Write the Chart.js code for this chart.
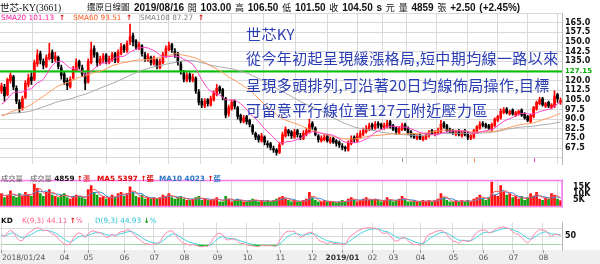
<!DOCTYPE html>
<html lang="zh-Hant">
<head>
<meta charset="UTF-8">
<title>世芯-KY(3661) 還原日線圖</title>
<script src="https://cdn.jsdelivr.net/npm/chart.js"></script>
<style>
  html, body { margin: 0; padding: 0; background: #fff; }
  #wrap { position: relative; width: 600px; height: 264px; overflow: hidden; background: #fff; }
  canvas { position: absolute; left: 0; }
  .t { position: absolute; white-space: nowrap; line-height: 1; }
  #dateRow { position: absolute; left: 0; top: 250px; width: 600px; height: 14px; background: #efefef; }
  #head { left: 134px; top: 1px; font: bold 10px "Liberation Sans", sans-serif; color: #111; word-spacing: 1px; }
  #head .c { font: 9px "Noto Sans CJK TC", sans-serif; }
  .sma { top: 13px; font: 7.3px "DejaVu Sans", sans-serif; }
  .up { color: #e00000; font-weight: bold; }
  .dn { color: #009900; font-weight: bold; }
  .leg { font: 7.3px "DejaVu Sans", "Noto Sans CJK TC", sans-serif; }
  .note { left: 246px; font: 15px "Noto Sans CJK TC", sans-serif; color: #2a3cb4; letter-spacing: 0.4px; }
</style>
</head>
<body>
<div id="wrap">
  <div id="dateRow"></div>
  <canvas id="priceChart" width="600" height="172" style="top:0"></canvas>
  <canvas id="volChart" width="600" height="43" style="top:172px"></canvas>
  <canvas id="kdChart" width="600" height="49" style="top:215px"></canvas>

  <div class="t" style="left:0;top:0;font:9.5px 'Liberation Serif','Noto Sans CJK TC',serif;color:#111">世芯-KY(3661)</div>
  <div class="t" style="left:87px;top:0;font:8.5px 'Noto Sans CJK TC',sans-serif;color:#111">還原日線圖</div>
  <div class="t" id="head">2019/08/16 <span class="c">開</span> 103.00 <span class="c">高</span> 106.50 <span class="c">低</span> 101.50 <span class="c">收</span> 104.50 s <span class="c">元</span> <span class="c">量</span> 4859 <span class="c">張</span> +2.50 (+2.45%)</div>

  <div class="t sma" style="left:1px;color:#ff1a9c">SMA20 101.13</div><div class="t sma up" style="left:59px">↑</div>
  <div class="t sma" style="left:73px;color:#ff5a1f">SMA60 93.51</div><div class="t sma up" style="left:126px">↑</div>
  <div class="t sma" style="left:140px;color:#808080">SMA108 87.27</div><div class="t sma up" style="left:198px">↑</div>

  <div class="t note" style="top:23px">世芯KY</div>
  <div class="t note" style="top:47px">從今年初起呈現緩漲格局,短中期均線一路以來</div>
  <div class="t note" style="top:74px">呈現多頭排列,可沿著20日均線佈局操作,目標</div>
  <div class="t note" style="top:99px">可留意平行線位置127元附近壓力區</div>

  <div class="t leg" style="left:1px;top:173px;color:#666">成交量</div>
  <div class="t leg" style="left:30px;top:173px;color:#666">成交量 <b style="color:#111">4859</b> <span class="up">↑</span><span style="color:#e00000">張</span></div>
  <div class="t leg" style="left:97px;top:173px;color:#e00000;font-weight:bold">MA5 5397 <span class="up">↑</span>張</div>
  <div class="t leg" style="left:159px;top:173px;color:#2a78c8;font-weight:bold">MA10 4023 <span class="up">↑</span>張</div>

  <div class="t leg" style="left:1px;top:216px;color:#111;font-weight:bold">KD</div>
  <div class="t leg" style="left:22px;top:216px;color:#ff5c8a">K(9,3) 44.11 <span class="up">↑</span>%</div>
  <div class="t leg" style="left:95px;top:216px;color:#2ec4cf">D(9,3) 44.93 <span class="dn">↓</span>%</div>
</div>

<script>
// 還原日線 (每根 = 約兩個交易日)
const opens = [112,115,109,120,123,114,103,99,107,117, 123,121,133,141,135,131,137,142,136,138,
  130,125,120,115,122,128,135,130,124,119, 134,145,141,133,136,140,134,136,141,135,
  141,147,143,150,155,151,145,147,140,136, 138,133,136,130,134,139,144,148,143,141,
  133,126,120,125,120,122,111,104,100,105, 101,105,109,115,113,106,94,98,104,99,
  93,88,92,89,85,79,77,73,76,71, 71,67,66,64,71,77,81,80,76,81,
  77,75,78,80,87,83,77,73,74,77, 72,75,73,72,69,68,66,71,76,73,
  76,78,80,82,86,83,87,86,83,84, 88,85,83,79,82,86,83,80,78,75,
  78,74,75,77,81,78,79,80,87,85, 82,81,78,81,77,81,79,75,76,80,
  83,87,86,85,82,85,89,91,95,98, 94,97,93,94,97,94,92,88,92,98,
  102,106,100,103,99,100,109,103];
const highs = [118,117,122,126,124,116,105,108,120,125, 126,136,144,143,137,140,149,144,142,139,
  132,127,122,123,131,137,136,132,126,137, 150,147,142,139,141,141,139,142,142,144,
  149,148,151,164,157,152,150,148,142,141, 139,139,137,137,142,147,150,149,145,142,
  135,128,126,126,125,123,113,106,106,106, 108,112,117,116,114,107,101,105,105,100,
  94,93,93,90,86,80,78,79,77,73, 72,69,67,72,80,84,82,81,82,82,
  79,81,83,90,88,84,78,77,78,78, 76,76,74,73,71,69,73,77,77,79,
  81,83,85,87,87,88,88,87,87,89, 89,86,84,84,87,87,84,81,79,78,
  79,77,79,81,82,81,83,89,88,86, 83,82,81,82,81,82,80,78,82,85,
  88,88,87,86,87,91,93,98,99,99, 97,98,96,97,98,95,93,94,100,104,
  107,107,103,104,102,112,110,106.5];
const lows = [110,104,108,118,113,102,95,97,106,115, 117,120,131,133,129,130,136,134,135,129,
  121,117,113,114,121,127,129,123,113,118, 133,138,131,132,134,133,133,135,134,134,
  140,142,142,148,147,144,144,139,135,135, 132,132,129,129,133,138,143,142,138,132,
  125,119,119,119,119,110,101,99,99,100, 100,104,108,110,105,91,92,97,98,90,
  87,87,86,84,78,74,72,72,70,68, 66,64,62,63,70,76,77,75,75,76,
  74,74,77,79,82,77,72,72,73,72, 71,71,69,68,66,65,65,70,72,72,
  75,77,79,81,82,82,83,82,82,83, 83,81,78,78,81,81,78,76,75,74,
  74,73,74,76,78,77,78,79,83,80, 79,78,77,77,76,77,74,74,75,79,
  82,84,83,82,81,84,88,90,94,94, 93,93,92,93,92,90,88,87,91,97,
  101,100,99,99,98,99,103,101.5];
const closes = [116,108,121,124,115,104,98,106,118,122, 120,134,140,136,132,138,141,137,139,131,
  124,119,116,121,129,134,131,125,118,135, 144,140,134,137,139,135,137,140,136,142,
  146,144,149,154,150,146,148,141,137,139, 134,137,131,135,140,145,147,144,140,134,
  127,121,124,121,123,112,103,101,104,102, 106,110,114,112,107,93,99,103,100,92,
  89,91,88,86,80,76,74,77,72,70, 68,66,64,70,78,82,79,77,80,78,
  76,79,81,86,84,78,74,75,76,73, 74,72,71,70,68,67,72,75,74,77,
  79,81,83,85,84,86,85,84,85,87, 84,82,80,83,85,82,79,77,76,77,
  75,76,78,80,79,80,81,86,84,81, 80,79,80,78,80,78,76,77,81,84,
  86,85,84,83,86,90,92,96,97,95, 96,94,95,96,93,91,89,93,99,103,
  105,101,102,100,101,108,106,104.5];
// 圖表起點之前的收盤 (供均線起算)
const priorCloses = [94,96,95,97,99,98,96,95,97,98,96,94,95,93,92,94,95,93,91,92,90,91,93,92,
  90,88,89,87,86,88,87,85,86,88,87,86,88,89,87,86,88,90,89,91,92,
  93,95,94,97,99,101,104,107,111];
// 成交量 (千張)
const volumes = [10,7,9,12,8,7,10,8,11,9, 8,17,14,10,8,11,13,9,8,7,
  9,10,7,6,8,9,8,7,6,13, 16,11,9,7,8,6,7,9,7,10,
  11,8,10,15,11,8,7,9,6,7, 6,7,6,7,9,8,10,7,6,7,
  8,6,5,5,6,7,8,5,6,5, 5,6,7,4,4,8,6,4,5,6,
  5,4,4,5,6,5,4,5,4,5, 4,5,6,7,8,6,5,4,5,4,
  4,5,6,11,7,5,4,4,5,4, 4,4,3,4,5,4,6,7,5,4,
  5,6,7,5,5,6,5,4,5,7, 5,4,5,6,8,5,4,4,5,4,
  4,5,4,5,4,5,6,10,7,5, 4,4,5,4,5,4,5,4,6,7,
  9,6,5,7,18.5,9,8,16,11,9, 10,7,8,6,8,5,7,10,8,11,
  6,5,7,6,10,9,6,4.859];

const tickIndex = [0, 21, 29, 41, 51, 61, 72, 82, 93, 104, 114, 124, 131, 140, 151, 161, 171, 181];
const tickLabels = ['2018/01/24','04','05','06','07','08','09','10','11','12','2019/01','02','03','04','05','06','07','08'];
const priceTicks = [60, 67.5, 75, 82.5, 90, 97.5, 105, 112.5, 120, 127.5, 135, 142.5, 150, 157.5, 165, 172.5];
const priceLabeled = [67.5, 75, 82.5, 90, 97.5, 105, 112.5, 120, 135, 142.5, 150, 157.5, 165];
const resistance = 127.15;
const volTicks = [5, 10, 15];
const kdTicks = [20, 50, 80];

const N = closes.length;
const xMin = -0.5, xMax = N - 0.5;
const gridColor = '#d9d9d9';
Chart.defaults.font.family = '"DejaVu Sans", sans-serif';

function sma(series, n, lead) {
  const all = lead.concat(series);
  const p = lead.length;
  return series.map((_, i) => {
    const j = i + p;
    const from = Math.max(0, j - n + 1);
    let s = 0;
    for (let k = from; k <= j; k++) s += all[k];
    return { x: i, y: s / (j - from + 1) };
  });
}

function xAxis() {
  return {
    type: 'linear', min: xMin, max: xMax, offset: false,
    afterBuildTicks: s => { s.ticks = tickIndex.map(v => ({ value: v })); },
    afterFit: s => { s.height = 0; },
    ticks: { display: false },
    grid: { color: gridColor, drawTicks: false },
    border: { display: false }
  };
}

function yAxis(min, max, ticks, label) {
  return {
    position: 'right', min: min, max: max,
    afterBuildTicks: s => { s.ticks = ticks.map(v => ({ value: v })); },
    afterFit: s => { s.width = 38; },
    ticks: { autoSkip: false, padding: 3, color: '#111', font: { size: 8, weight: 'bold' }, callback: label },
    grid: { color: gridColor, drawTicks: false },
    border: { color: '#b8b8b8' }
  };
}

const baseOpts = {
  responsive: false, devicePixelRatio: 1, animation: false,
  plugins: { legend: { display: false }, tooltip: { enabled: false } }
};

const candleColor = closes.map((c, i) => c >= opens[i] ? '#ff0000' : '#000000');

// 價格
new Chart(document.getElementById('priceChart'), {
  type: 'bar',
  data: {
    datasets: [
      { type: 'line', data: sma(closes, 10, priorCloses), borderColor: '#ff44c8', borderWidth: 1, pointRadius: 0, order: 0 },
      { type: 'line', data: sma(closes, 30, priorCloses), borderColor: '#ff9a5a', borderWidth: 1, pointRadius: 0, order: 0 },
      { type: 'line', data: sma(closes, 54, priorCloses), borderColor: '#a8a8a8', borderWidth: 1, pointRadius: 0, order: 0 },
      { type: 'line', data: [{ x: xMin, y: resistance }, { x: xMax, y: resistance }], borderColor: '#00c400', borderWidth: 2, pointRadius: 0, order: 0 },
      { data: closes.map((c, i) => ({ x: i, y: [lows[i], highs[i]] })), backgroundColor: candleColor, barThickness: 1, grouped: false, order: 2 },
      { data: closes.map((c, i) => ({ x: i, y: [opens[i], c] })), backgroundColor: candleColor, barThickness: 2, grouped: false, order: 1 }
    ]
  },
  options: Object.assign({}, baseOpts, {
    layout: { padding: { top: 13, left: 0, right: 0, bottom: 0 } },
    scales: {
      x: xAxis(),
      y: yAxis(54.9, 172.6, priceTicks, v => priceLabeled.includes(v) ? v.toFixed(1) : '')
    }
  }),
  plugins: [{
    id: 'priceExtras',
    afterDraw(chart) {
      const { ctx, chartArea, scales: { x, y } } = chart;
      ctx.save();
      ctx.fillStyle = '#00b000';
      ctx.font = 'bold 7px "DejaVu Sans"';
      ctx.textBaseline = 'middle';
      ctx.fillText(resistance.toFixed(2), chartArea.right + 3, y.getPixelForValue(resistance));
      [[54, '#999999'], [30, '#ff8a40'], [10, '#ff44c8']].forEach(([n, col]) => {
        const px = Math.round(x.getPixelForValue(N - n)) + 0.5;
        ctx.strokeStyle = col;
        ctx.beginPath(); ctx.moveTo(px, chartArea.bottom - 6); ctx.lineTo(px, chartArea.bottom - 2); ctx.stroke();
      });
      ctx.restore();
    }
  }]
});

// 成交量
const volColor = closes.map((c, i) => c >= opens[i] ? '#ff1010' : '#10a010');
const volData = volumes.map((v, i) => ({ x: i, y: v }));
new Chart(document.getElementById('volChart'), {
  type: 'bar',
  data: {
    datasets: [
      { type: 'line', data: sma(volumes, 3, []), borderColor: '#ff5050', borderWidth: 1, pointRadius: 0, order: 0 },
      { type: 'line', data: sma(volumes, 5, []), borderColor: '#3b8fe0', borderWidth: 1, pointRadius: 0, order: 0 },
      { data: volData, backgroundColor: volColor, barThickness: 2, order: 1 }
    ]
  },
  options: Object.assign({}, baseOpts, {
    layout: { padding: 0 },
    scales: {
      x: xAxis(),
      y: Object.assign(yAxis(0, 20.2, volTicks, v => v + 'K'), { grid: { display: false } })
    }
  }),
  plugins: [{
    id: 'volFrame',
    afterDraw(chart) {
      const { ctx, chartArea: a } = chart;
      ctx.save();
      ctx.strokeStyle = '#ff7cf0';
      ctx.lineWidth = 1.5;
      ctx.strokeRect(a.left - 1, a.top + 0.75, a.right - a.left + 1, a.bottom - a.top - 1.5);
      ctx.restore();
    }
  }]
});

// KD(9,3)
const kdPeriod = 5;
const kVals = [], dVals = [];
let kPrev = 50, dPrev = 50;
closes.forEach((c, i) => {
  const from = Math.max(0, i - kdPeriod + 1);
  const hi = Math.max(...highs.slice(from, i + 1));
  const lo = Math.min(...lows.slice(from, i + 1));
  const rsv = hi > lo ? (c - lo) / (hi - lo) * 100 : 50;
  kPrev = kPrev * 2 / 3 + rsv / 3;
  dPrev = dPrev * 2 / 3 + kPrev / 3;
  kVals.push({ x: i, y: kPrev });
  dVals.push({ x: i, y: dPrev });
});

new Chart(document.getElementById('kdChart'), {
  type: 'line',
  data: {
    datasets: [
      { data: kVals, borderColor: '#ff88aa', borderWidth: 1, pointRadius: 0,
        fill: { target: { value: 20 }, above: 'rgba(0,0,0,0)', below: '#00cc22' } },
      { data: kVals, borderWidth: 0, pointRadius: 0,
        fill: { target: { value: 85 }, above: '#ff2020', below: 'rgba(0,0,0,0)' } },
      { data: dVals, borderColor: '#44d4e0', borderWidth: 1, pointRadius: 0 }
    ]
  },
  options: Object.assign({}, baseOpts, {
    layout: { padding: { top: 0, left: 0, right: 0, bottom: 14 } },
    scales: {
      x: xAxis(),
      y: Object.assign(yAxis(0, 100, kdTicks, v => v === 50 ? '50' : ''), { border: { color: '#b8b8b8' } })
    }
  }),
  plugins: [{
    id: 'dateAxis',
    afterDraw(chart) {
      const { ctx, chartArea: a, scales: { x } } = chart;
      ctx.save();
      ctx.strokeStyle = '#999';
      ctx.lineWidth = 1;
      ctx.textBaseline = 'middle';
      tickIndex.forEach((v, i) => {
        const px = Math.round(x.getPixelForValue(v)) + 0.5;
        ctx.beginPath(); ctx.moveTo(px, a.bottom); ctx.lineTo(px, a.bottom + 3); ctx.stroke();
        const lab = tickLabels[i];
        const bold = i > 0 && lab.length > 2;
        ctx.font = (bold ? 'bold ' : '') + '7.5px "DejaVu Sans"';
        ctx.fillStyle = bold ? '#333' : '#555';
        ctx.textAlign = i === 0 ? 'left' : 'center';
        ctx.fillText(lab, i === 0 ? 2 : px, a.bottom + 8);
      });
      ctx.restore();
    }
  }]
});
</script>
</body>
</html>
